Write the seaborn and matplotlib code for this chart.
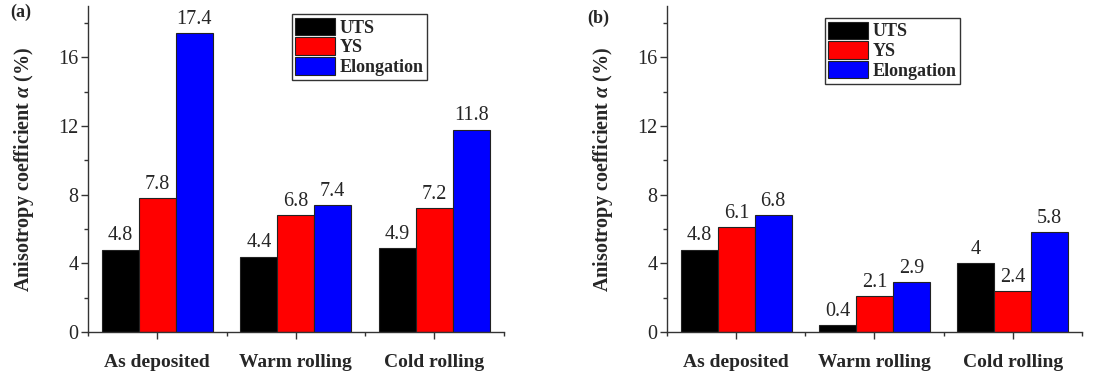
import pandas as pd
import seaborn as sns
import matplotlib.pyplot as plt
from matplotlib.ticker import MultipleLocator, FixedLocator

categories = ['As deposited', 'Warm rolling', 'Cold rolling']
series = ['UTS', 'YS', 'Elongation']
colors = ['#000000', '#ff0000', '#0000ff']

uts_a = [4.8, 4.4, 4.9]
ys_a = [7.8, 6.8, 7.2]
el_a = [17.4, 7.4, 11.8]

uts_b = [4.8, 0.4, 4.0]
ys_b = [6.1, 2.1, 2.4]
el_b = [6.8, 2.9, 5.8]

labels_a = [['4.8', '4.4', '4.9'], ['7.8', '6.8', '7.2'], ['17.4', '7.4', '11.8']]
labels_b = [['4.8', '0.4', '4'], ['6.1', '2.1', '2.4'], ['6.8', '2.9', '5.8']]

sns.set_style('ticks')
plt.rcParams['font.family'] = ['Liberation Serif', 'DejaVu Serif']
plt.rcParams['mathtext.fontset'] = 'custom'
plt.rcParams['mathtext.it'] = 'Liberation Serif:italic:bold'
plt.rcParams['mathtext.rm'] = 'Liberation Serif:bold'


def make_df(uts, ys, el):
    rows = []
    for s, vals in zip(series, [uts, ys, el]):
        for c, v in zip(categories, vals):
            rows.append({'category': c, 'series': s, 'value': v})
    return pd.DataFrame(rows)


fig = plt.figure(figsize=(11.14, 3.76), dpi=100)
ax1 = fig.add_axes([0.079, 0.117, 0.373, 0.867])
ax2 = fig.add_axes([0.599, 0.117, 0.372, 0.867])

panels = [
    (ax1, make_df(uts_a, ys_a, el_a), labels_a, (0.49, 0.975)),
    (ax2, make_df(uts_b, ys_b, el_b), labels_b, (0.38, 0.963)),
]

for ax, df, labs, legpos in panels:
    sns.barplot(data=df, x='category', y='value', hue='series', order=categories,
                hue_order=series, palette=colors, width=0.8, edgecolor='#222222',
                linewidth=0.8, saturation=1, ax=ax)
    for cont, lab in zip(ax.containers, labs):
        ax.bar_label(cont, labels=lab, padding=3, fontsize=14.5)
    ax.set_ylim(0, 19)
    ax.set_xlim(-0.5, 2.5)
    ax.yaxis.set_major_locator(MultipleLocator(4))
    ax.yaxis.set_minor_locator(FixedLocator([2, 6, 10, 14, 18]))
    ax.xaxis.set_minor_locator(FixedLocator([-0.5, 0.5, 1.5, 2.5]))
    ax.tick_params(axis='both', which='major', direction='out', length=5, width=1,
                   color='#333333')
    ax.tick_params(axis='both', which='minor', direction='out', length=3, width=1,
                   color='#333333')
    ax.tick_params(axis='y', labelsize=14.5, pad=2)
    ax.tick_params(axis='x', labelsize=14, pad=11)
    for t in ax.get_xticklabels():
        t.set_fontweight('bold')
    ax.set_xlabel('')
    ax.set_ylabel(r'Anisotropy coefficient $\alpha$ (%)', fontsize=14.5,
                  fontweight='bold', labelpad=16)
    sns.despine(ax=ax)
    for sp in ['left', 'bottom']:
        ax.spines[sp].set_color('#333333')
        ax.spines[sp].set_linewidth(1)
    leg = ax.legend(loc='upper left', bbox_to_anchor=legpos, frameon=True,
                    fancybox=False, edgecolor='black', handlelength=2.2,
                    handleheight=1.1, labelspacing=0.05, handletextpad=0.25,
                    borderpad=0.2, borderaxespad=0,
                    prop={'weight': 'bold', 'size': 13})
    leg.get_frame().set_linewidth(1)

fig.text(0.009, 0.955, '(a)', fontsize=13, fontweight='bold')
fig.text(0.527, 0.94, '(b)', fontsize=13, fontweight='bold')

fig.savefig('out.png', dpi=100)
